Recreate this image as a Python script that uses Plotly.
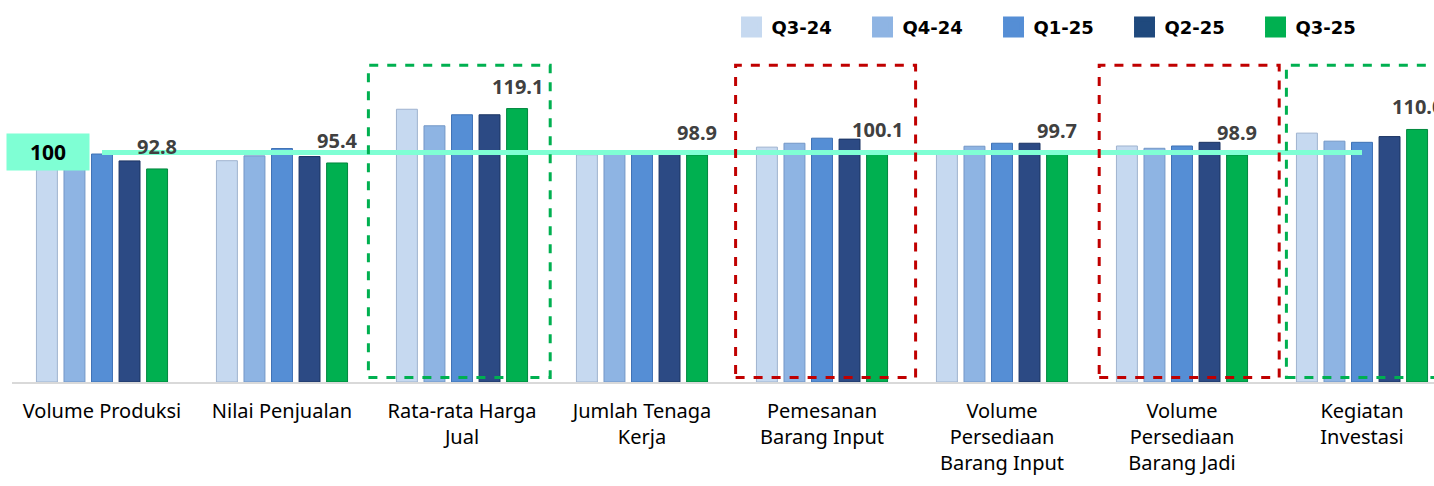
import plotly.graph_objects as go

# ---------------- data ----------------
categories = ["Volume Produksi", "Nilai Penjualan", "Rata-rata Harga Jual",
              "Jumlah Tenaga Kerja", "Pemesanan Barang Input",
              "Volume Persediaan Barang Input", "Volume Persediaan Barang Jadi",
              "Kegiatan Investasi"]
tick_labels = ["Volume Produksi", "Nilai Penjualan", "Rata-rata Harga<br>Jual",
               "Jumlah Tenaga<br>Kerja", "Pemesanan<br>Barang Input",
               "Volume<br>Persediaan<br>Barang Input",
               "Volume<br>Persediaan<br>Barang Jadi", "Kegiatan<br>Investasi"]
series_names = ["Q3-24", "Q4-24", "Q1-25", "Q2-25", "Q3-25"]
q3_24 = [94.4, 96.4, 118.8, 99.0, 102.3, 100.5, 102.8, 108.4]
q4_24 = [95.8, 98.5, 111.6, 99.2, 104.0, 102.7, 101.8, 104.9]
q1_25 = [99.3, 101.7, 116.4, 100.6, 106.2, 104.0, 102.8, 104.4]
q2_25 = [96.3, 98.2, 116.4, 100.8, 105.8, 104.0, 104.4, 106.9]
q3_25 = [92.8, 95.4, 119.1, 98.9, 100.1, 99.7, 98.9, 110.0]
reference_value = [100] * len(categories)
reference_label = "100"
# highlighted categories (index) and the colour of their dashed frame
highlight_idx = [2, 4, 6, 7]
highlight_colors = ["#00B050", "#C00000", "#C00000", "#00B050"]

# ---------------- style ----------------
bar_colors = ["#C6D9F0", "#8EB4E3", "#558ED5", "#2C4A84", "#00B050"]
line_colors = ["#9FB3CF", "#7397C6", "#3F72B5", "#1B3463", "#00873D"]
legend_colors = ["#C6D9F0", "#8EB4E3", "#558ED5", "#1F497D", "#00B050"]
frame_left_pad = [0.52, 0.48, 0.46, 0.42]
frame_right_pad = [0.49, 0.52, 0.54, 0.6]
BARGAP = 0.235
BARGROUPGAP = 0.24
all_series = [q3_24, q4_24, q1_25, q2_25, q3_25]

fig = go.Figure()
x_idx = list(range(len(categories)))
for name, vals, col, lc in zip(series_names, all_series, bar_colors, line_colors):
    fig.add_trace(go.Bar(
        x=x_idx, y=vals, name=name, legendgroup=name, showlegend=False,
        marker=dict(color=col, line=dict(color=lc, width=1)),
        hovertemplate="%{y:.1f}<extra>" + name + "</extra>"))

# reference line at 100
fig.add_trace(go.Scatter(
    x=x_idx, y=reference_value, mode="lines", showlegend=False,
    line=dict(color="#7FFFD4", width=5), hoverinfo="skip"))

# legend entries (bigger square swatches)
for name, col in zip(series_names, legend_colors):
    fig.add_trace(go.Scatter(
        x=[None], y=[None], mode="markers", name=name, legendgroup=name,
        marker=dict(symbol="square", size=16, color=col,
                    line=dict(color=col, width=5))))

# value labels of latest quarter (above green bar)
n = len(series_names)
slot = (1 - BARGAP) / n
green_off = (n - 1 - (n - 1) / 2) * slot
for i, v in enumerate(q3_25):
    fig.add_annotation(
        x=i + green_off, y=v, xref="x", yref="y", text=f"<b>{v:.1f}</b>",
        showarrow=False, yanchor="bottom", yshift=7,
        font=dict(family="Noto Sans", size=20, color="#404040"))

# "100" label box
fig.add_annotation(
    x=0, y=reference_value[0], xref="x", yref="y", text=f"<b>{reference_label}</b>",
    showarrow=False, xanchor="right", xshift=-12, width=80, height=34,
    bgcolor="#7FFFD4", font=dict(family="Noto Sans", size=21, color="#000000"))

# dashed frames
for i, c, lp, rp in zip(highlight_idx, highlight_colors, frame_left_pad, frame_right_pad):
    fig.add_shape(type="rect", xref="x", yref="y", x0=i - lp, x1=i + rp,
                  y0=2, y1=138, line=dict(color=c, width=3, dash="dash"),
                  fillcolor="rgba(0,0,0,0)", layer="above")

fig.update_layout(
    width=1434, height=486,
    margin=dict(l=12, r=0, t=56, b=104, autoexpand=False),
    paper_bgcolor="white", plot_bgcolor="white",
    barmode="group", bargap=BARGAP, bargroupgap=BARGROUPGAP,
    showlegend=True,
    legend=dict(orientation="h", x=0.506, xanchor="left", y=1.145, yanchor="top",
                entrywidth=86, entrywidthmode="pixels", itemclick=False,
                font=dict(family="DejaVu Sans", size=18, color="#000000", weight="bold"),
                bgcolor="rgba(0,0,0,0)"),
    xaxis=dict(range=[-0.5, 7.4], tickmode="array", tickvals=x_idx, ticktext=tick_labels,
               showline=True, linecolor="#D9D9D9", linewidth=2, showgrid=False,
               zeroline=False, ticks="", tickangle=0, automargin=False,
               ticklabelstandoff=10,
               tickfont=dict(family="Noto Sans", size=20, color="#000000")),
    yaxis=dict(range=[0, 142], visible=False, showgrid=False, zeroline=False),
)

fig.write_html("out.html", config={"displayModeBar": False},
               post_script="document.body.style.margin='0';document.body.style.overflow='hidden';")
